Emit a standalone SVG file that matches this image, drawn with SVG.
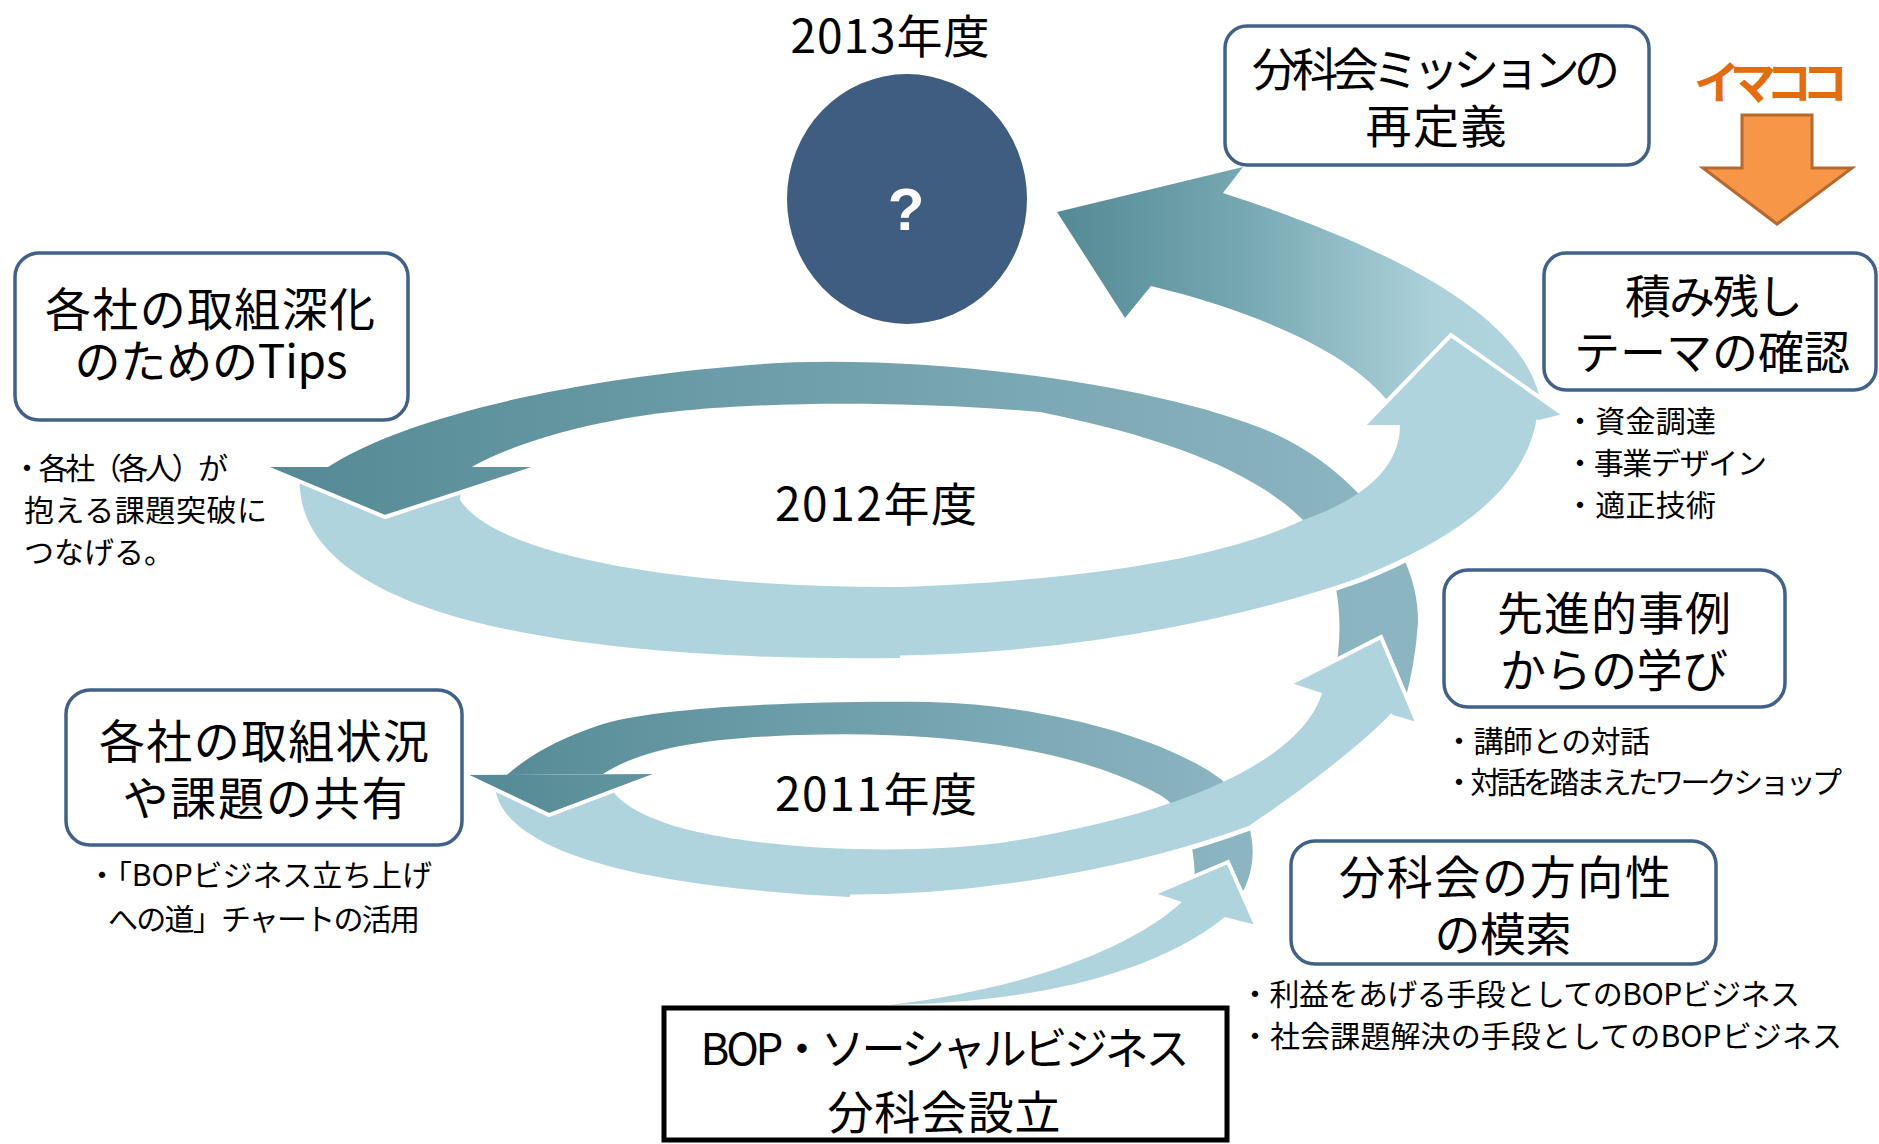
<svg xmlns="http://www.w3.org/2000/svg" width="1879" height="1144" viewBox="0 0 1879 1144">
<defs>
<style>
.box{fill:#fff;stroke:#41618B;stroke-width:3.5}
.jp{font-family:"Noto Sans CJK JP","Noto Sans",sans-serif;fill:#000}
.big{font-size:46px;text-anchor:middle}
.yr{font-size:46px;text-anchor:middle}
.sm{font-size:30px}
.lt{fill:#AFD4DD}
.wl{fill:none;stroke:#fff;stroke-width:4;stroke-linejoin:miter}
.we{fill:none;stroke:#fff;stroke-width:5}
</style>
<linearGradient id="gD" gradientUnits="userSpaceOnUse" x1="265" y1="0" x2="1360" y2="0">
<stop offset="0" stop-color="#548A95"/><stop offset="1" stop-color="#8BB5C0"/>
</linearGradient>
<linearGradient id="gB" gradientUnits="userSpaceOnUse" x1="465" y1="0" x2="1230" y2="0">
<stop offset="0" stop-color="#548A95"/><stop offset="1" stop-color="#8BB5C0"/>
</linearGradient>
<linearGradient id="gF" gradientUnits="userSpaceOnUse" x1="1057" y1="0" x2="1500" y2="0">
<stop offset="0" stop-color="#548A95"/><stop offset="0.4" stop-color="#74A6B0"/><stop offset="0.85" stop-color="#ACD1DA"/><stop offset="1" stop-color="#AFD4DD"/>
</linearGradient>
</defs>
<rect width="1879" height="1144" fill="#fff"/>

<g id="connectors">
<path id="arc2012back" fill="url(#gD)" d="M 328,467 C 400,420 560,380 750,365 C 900,352 1150,380 1273,433 C 1340,462 1420,540 1418,623 Q 1415,665 1405,700 L 1335,675 C 1345,620 1340,560 1303,520 C 1260,477 1180,440 1040,412 C 900,400 720,400 617,420 C 560,430 500,450 472,467 Z"/>
<path id="arc2011back" fill="url(#gB)" d="M 1240,897 C 1262,860 1255,815 1222,780 C 1170,740 1050,705 930,702 C 800,700 650,708 600,725 Q 540,745 507,775 L 603,774 C 640,750 700,738 800,735 C 950,730 1080,750 1160,795 C 1185,810 1195,840 1195,885 Z"/>
<path id="arc2013" fill="url(#gF)" d="M 1541,405 C 1530,330 1430,260 1223,193 L 1243,167 L 1057,212 L 1125,318 L 1151,286 C 1250,310 1350,350 1391,405 Z"/>
<g id="arcStart">
<path class="lt" d="M 889,1005 C 1000,1003 1140,985 1225,917 L 1256,925 L 1228,862 L 1155,893 L 1182,902 C 1130,950 1020,990 889,1005 Z"/>
<polyline class="wl" points="1155,893 1228,862 1256,925"/>
</g>
<g id="arc2011front">
<path class="lt" d="M 495,778 C 490,840 600,885 850,897 C 1000,897 1150,865 1250,828 C 1300,795 1365,745 1393,715 L 1417,722 L 1381,637 L 1291,683 L 1322,693 C 1305,750 1210,810 1000,843 C 880,858 720,845 660,821 Q 615,805 605,778 Z"/>
<path class="we" d="M 850,897 C 1000,897 1150,865 1250,828 C 1300,795 1365,745 1393,715"/>
<polyline class="wl" points="1291,683 1381,637 1417,722"/>
</g>
<g id="head2011">
<polygon fill="url(#gB)" points="465,775 658,774 549,815"/>
<polyline class="wl" points="465,775 549,815 658,774"/>
</g>
<g id="arc2012front">
<path class="lt" d="M 300,472 C 288,615 560,662 900,658 C 1100,655 1270,612 1360,580 C 1440,548 1525,500 1539,420 L 1563,414 L 1451,335 L 1364,425 L 1400,425 C 1400,470 1360,500 1303,520 C 1230,555 1100,580 900,587 C 700,588 500,560 460,500 L 462,472 Z"/>
<path class="we" d="M 900,658 C 1100,655 1270,612 1360,580 C 1440,548 1525,500 1539,420"/>
<polyline class="wl" points="1364,425 1451,335 1563,414"/>
</g>
<g id="head2012">
<polygon fill="url(#gD)" points="265,467 538,467 385,517"/>
<polyline class="wl" points="265,467 385,517 538,467"/>
</g>
</g>

<g id="year2013"><text class="jp yr" x="890" y="53" textLength="199">2013年度</text></g>
<g id="year2012"><text class="jp yr" x="876" y="521" textLength="202">2012年度</text></g>
<g id="year2011"><text class="jp yr" x="876" y="811" textLength="202">2011年度</text></g>

<g id="node-question">
<ellipse cx="907" cy="199" rx="120" ry="125" fill="#3E5D81"/>
<text x="906" y="230" font-family="Liberation Sans, Arial, sans-serif" font-weight="bold" font-size="60" fill="#fff" text-anchor="middle">?</text>
</g>

<g id="node-mission">
<rect class="box" x="1225" y="26" width="424" height="139" rx="22"/>
<text class="jp big"><tspan x="1436" y="86" textLength="368">分科会ミッションの</tspan><tspan x="1436" y="143" textLength="141">再定義</tspan></text>
</g>

<g id="node-imakoko">
<text x="1771" y="99" font-family="Noto Sans CJK JP, sans-serif" font-weight="bold" font-size="46" fill="#E46C0A" text-anchor="middle" textLength="154">イマココ</text>
<polygon points="1742,115 1812,115 1812,168 1852,168 1777,224 1703,168 1742,168" fill="#F79646" stroke="#B5692F" stroke-width="3"/>
</g>

<g id="node-themes">
<rect class="box" x="1544" y="253" width="332" height="137" rx="22"/>
<text class="jp big"><tspan x="1714" y="313" textLength="178">積み残し</tspan><tspan x="1712" y="369" textLength="276">テーマの確認</tspan></text>
<text class="jp sm"><tspan x="1565" y="432" textLength="151">・資金調達</tspan><tspan x="1565" y="474" textLength="202">・事業デザイン</tspan><tspan x="1565" y="516" textLength="151">・適正技術</tspan></text>
</g>

<g id="node-tips">
<rect class="box" x="15" y="253" width="393" height="167" rx="24"/>
<text class="jp big"><tspan x="210" y="326" textLength="330">各社の取組深化</tspan><tspan x="211" y="378" textLength="273">のためのTips</tspan></text>
<text class="jp sm"><tspan x="12" y="479" textLength="216">・各社（各人）が</tspan><tspan x="24" y="521" textLength="243">抱える課題突破に</tspan><tspan x="24" y="563">つなげる。</tspan></text>
</g>

<g id="node-share">
<rect class="box" x="66" y="690" width="396" height="155" rx="24"/>
<text class="jp big"><tspan x="264" y="758" textLength="330">各社の取組状況</tspan><tspan x="265" y="815" textLength="285">や課題の共有</tspan></text>
<text class="jp sm"><tspan x="87" y="886" textLength="345">・「BOPビジネス立ち上げ</tspan><tspan x="108" y="930" textLength="312">への道」チャートの活用</tspan></text>
</g>

<g id="node-learning">
<rect class="box" x="1444" y="570" width="341" height="137" rx="24"/>
<text class="jp big"><tspan x="1614" y="630" textLength="234">先進的事例</tspan><tspan x="1614" y="687" textLength="228">からの学び</tspan></text>
<text class="jp sm"><tspan x="1444" y="752" textLength="206">・講師との対話</tspan><tspan x="1444" y="793" textLength="398">・対話を踏まえたワークショップ</tspan></text>
</g>

<g id="node-direction">
<rect class="box" x="1291" y="841" width="425" height="123" rx="24"/>
<text class="jp big"><tspan x="1505" y="894" textLength="332">分科会の方向性</tspan><tspan x="1503" y="951" textLength="137">の模索</tspan></text>
<text class="jp sm"><tspan x="1240" y="1005" textLength="560">・利益をあげる手段としてのBOPビジネス</tspan><tspan x="1240" y="1047" textLength="602">・社会課題解決の手段としてのBOPビジネス</tspan></text>
</g>

<g id="node-founding">
<rect x="664" y="1008" width="563" height="132" fill="#fff" stroke="#000" stroke-width="5"/>
<text class="jp" text-anchor="middle"><tspan x="945" y="1065" font-size="44" textLength="489">BOP・ソーシャルビジネス</tspan><tspan x="944" y="1129" font-size="46" textLength="233">分科会設立</tspan></text>
</g>
</svg>
